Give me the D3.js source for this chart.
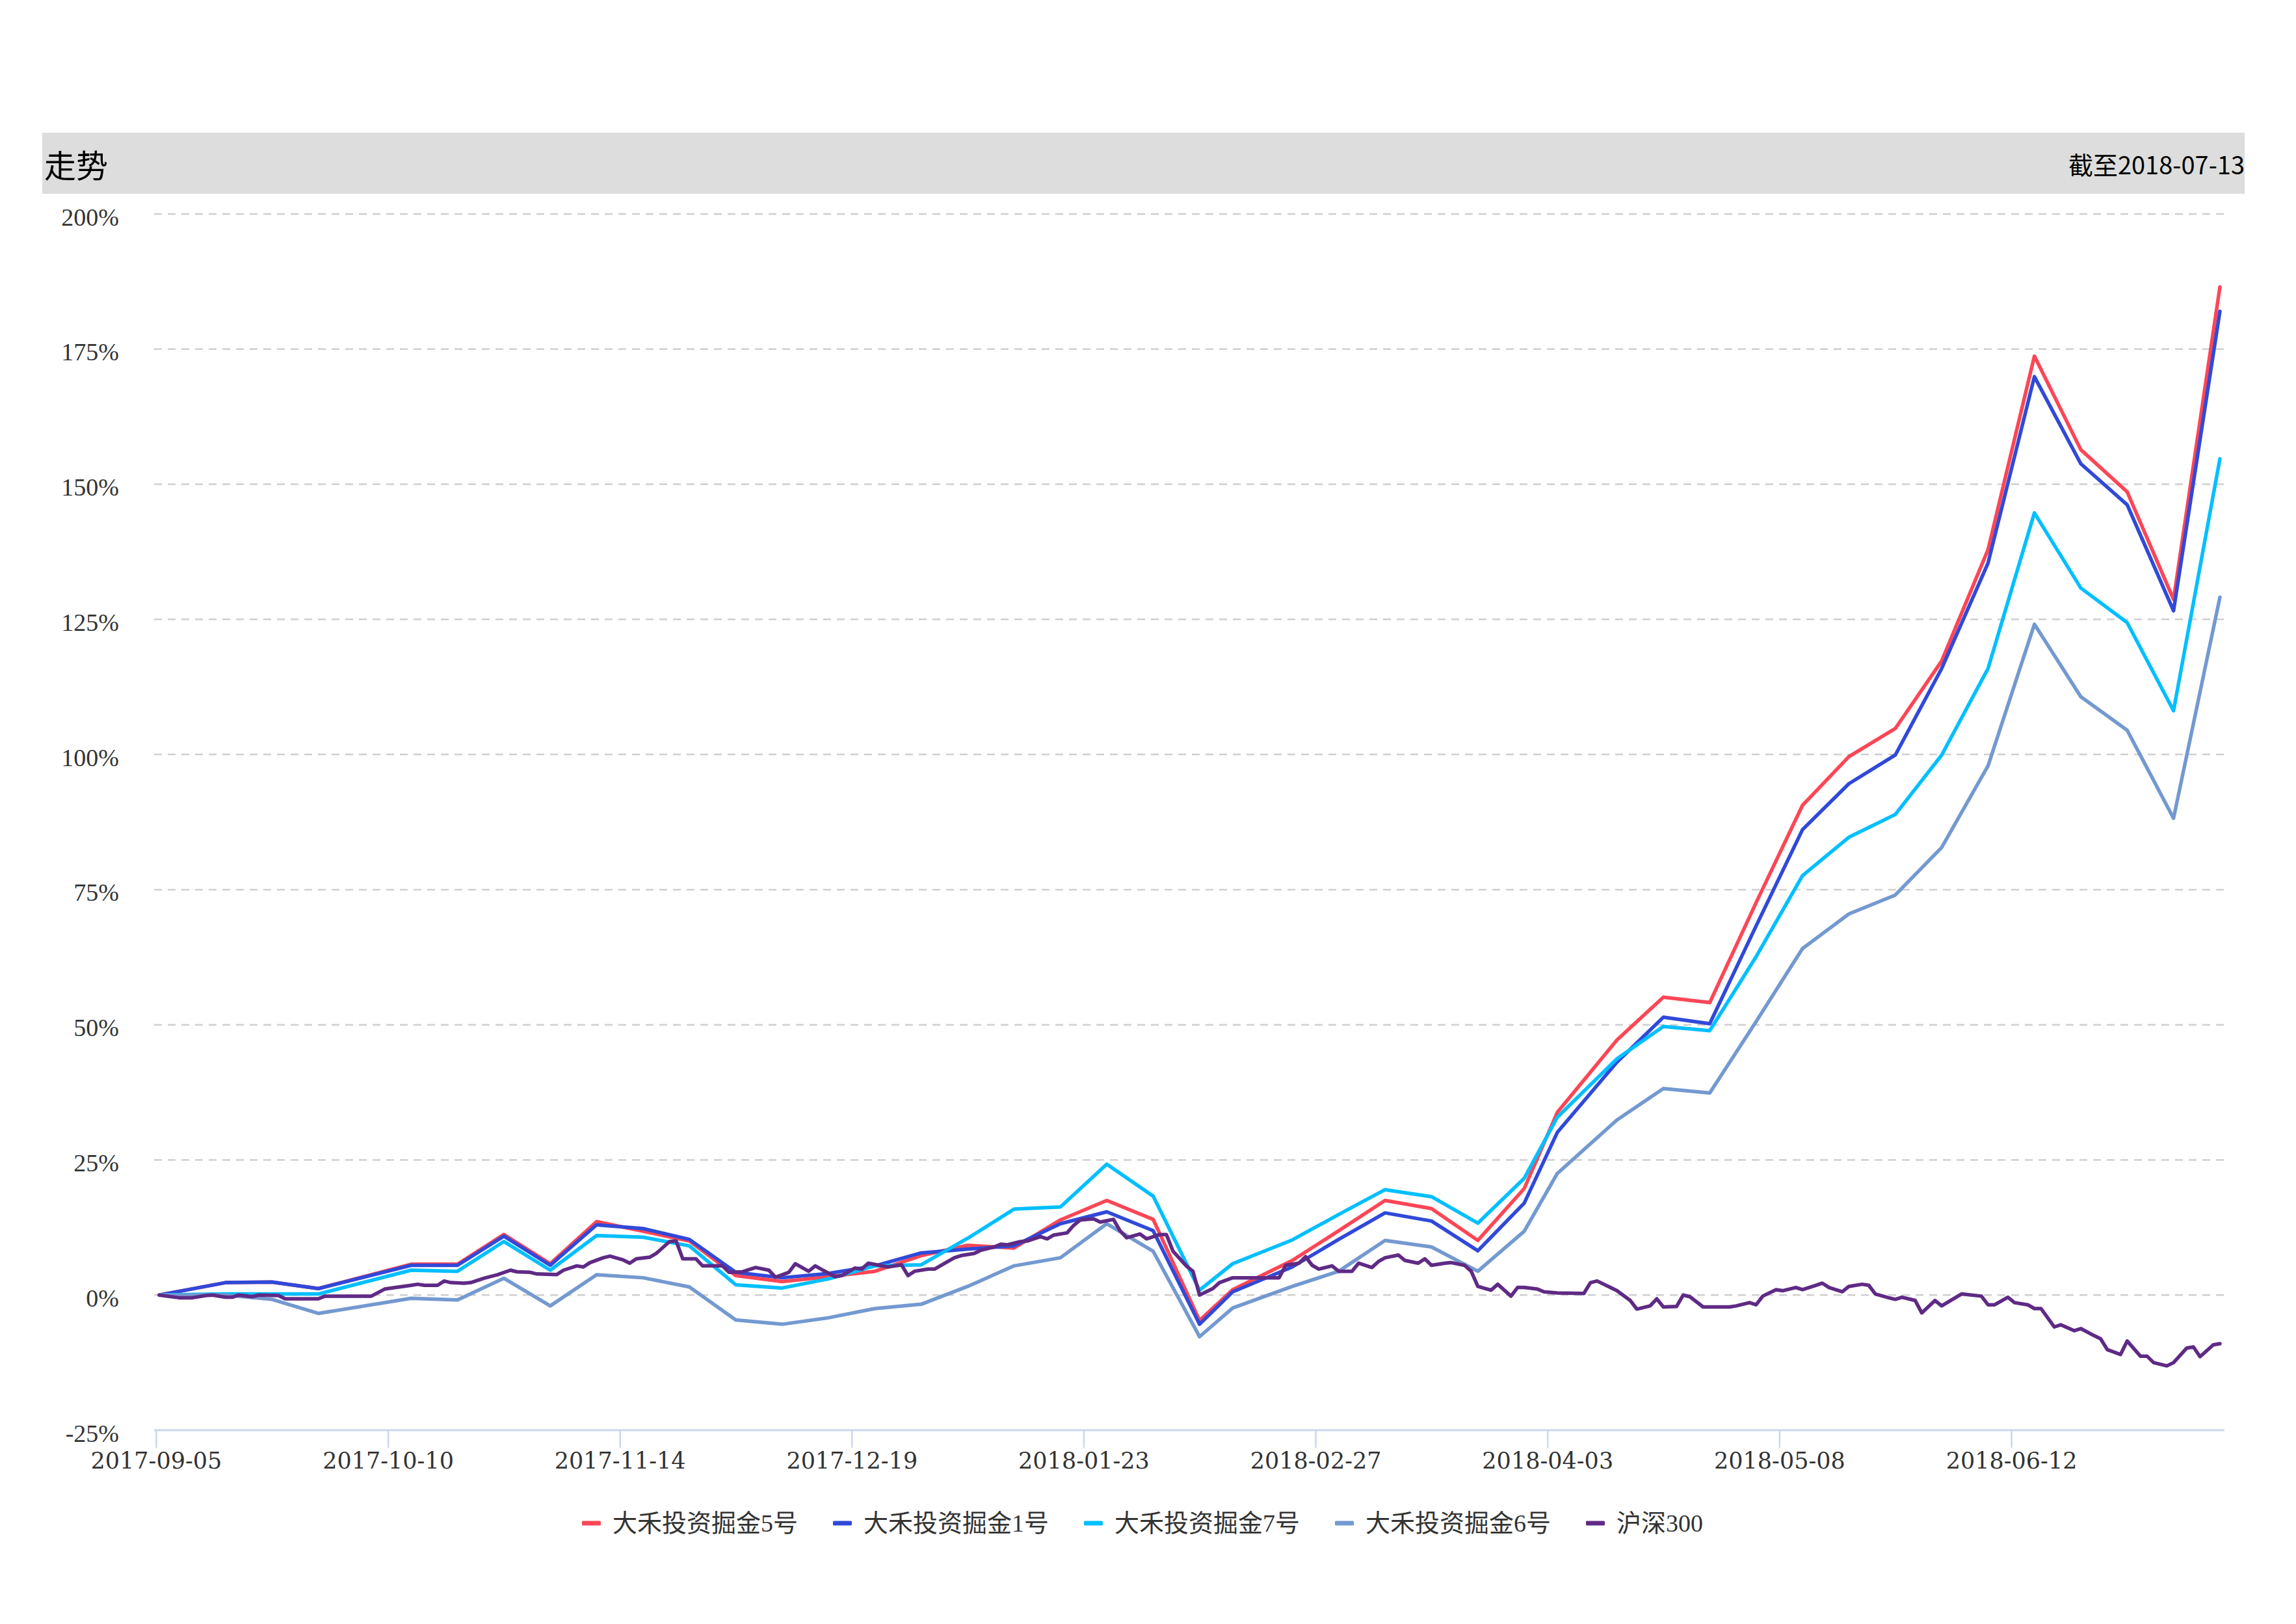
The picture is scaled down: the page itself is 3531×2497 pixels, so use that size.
<!DOCTYPE html>
<html><head><meta charset="utf-8">
<script src="https://cdn.jsdelivr.net/npm/d3@7"></script>
<style>html,body{margin:0;padding:0;background:#fff}</style>
</head><body>
<svg id="chart" width="3531" height="2497"></svg>
<script>
// ---------------- DATA ----------------
const chartTitle = "走势";
const asOfLabel = "截至2018-07-13";
const seriesNames = ["大禾投资掘金5号", "大禾投资掘金1号", "大禾投资掘金7号", "大禾投资掘金6号", "沪深300"];
const seriesColors = ["#fc4656", "#3049d9", "#00bfff", "#7399d0", "#5f2a85"];

const fundDates = ["2017-09-05","2017-09-15","2017-09-22","2017-09-29","2017-10-13","2017-10-20","2017-10-27","2017-11-03","2017-11-10","2017-11-17","2017-11-24","2017-12-01","2017-12-08","2017-12-15","2017-12-22","2017-12-29","2018-01-05","2018-01-12","2018-01-19","2018-01-26","2018-02-02","2018-02-09","2018-02-14","2018-02-23","2018-03-02","2018-03-09","2018-03-16","2018-03-23","2018-03-30","2018-04-04","2018-04-13","2018-04-20","2018-04-27","2018-05-04","2018-05-11","2018-05-18","2018-05-25","2018-06-01","2018-06-08","2018-06-15","2018-06-22","2018-06-29","2018-07-06","2018-07-13"];
const fund5 = [0,2.3,2.4,1.2,5.7,5.7,11.2,5.8,13.6,11.8,10.0,3.6,2.5,3.4,4.4,7.3,9.2,8.7,13.9,17.5,14.0,-4.7,1.0,6.4,11.9,17.5,16.0,10.1,19.7,33.8,47.2,55.1,54.1,72.6,90.6,99.6,104.8,117.3,137.9,173.7,156.4,148.6,128.7,186.5];
const fund1 = [0,2.3,2.4,1.2,5.5,5.5,10.9,5.5,13.0,12.3,10.3,4.2,3.2,4.0,5.4,7.8,8.5,9.1,13.2,15.4,11.9,-5.4,0.6,5.2,10.3,15.2,13.7,8.2,17.0,30.1,43.1,51.4,50.2,68.3,86.1,94.6,99.9,115.9,135.4,169.9,153.8,146.2,126.6,182.0];
const fund7 = [0,0.2,0.2,0.2,4.6,4.4,9.9,4.6,11.0,10.7,9.1,1.9,1.3,3.0,5.4,5.6,10.5,15.9,16.3,24.2,18.3,0.9,5.8,10.2,14.9,19.5,18.2,13.3,21.6,32.9,43.7,49.7,48.9,62.6,77.6,84.7,88.9,99.9,115.9,144.7,130.8,124.4,108.1,154.7];
const fund6 = [0,0,-0.8,-3.4,-0.6,-0.9,3.1,-2.0,3.75,3.2,1.5,-4.6,-5.4,-4.2,-2.5,-1.7,1.6,5.4,6.9,13.2,8.1,-7.7,-2.4,1.6,4.4,10.1,8.9,4.4,11.8,22.5,32.4,38.2,37.4,50.6,64.1,70.5,74.0,82.8,97.9,124.1,110.7,104.5,88.2,129.1];

const hsDates = [
 "2017-09-05","2017-09-08","2017-09-10","2017-09-12","2017-09-13","2017-09-15","2017-09-16","2017-09-17","2017-09-19","2017-09-20","2017-09-23","2017-09-24","2017-09-29","2017-09-30",
 "2017-10-07","2017-10-09","2017-10-10","2017-10-13","2017-10-14","2017-10-15","2017-10-17","2017-10-18","2017-10-19","2017-10-21","2017-10-22","2017-10-24","2017-10-26","2017-10-28","2017-10-29","2017-10-31",
 "2017-11-01","2017-11-04","2017-11-05","2017-11-07","2017-11-08","2017-11-09","2017-11-11","2017-11-12","2017-11-14","2017-11-15","2017-11-16","2017-11-18","2017-11-19","2017-11-21","2017-11-22","2017-11-23","2017-11-25","2017-11-26","2017-11-29","2017-11-30",
 "2017-12-02","2017-12-04","2017-12-06","2017-12-07","2017-12-09","2017-12-10","2017-12-12","2017-12-13","2017-12-14","2017-12-16","2017-12-17","2017-12-19","2017-12-20","2017-12-21","2017-12-24","2017-12-26","2017-12-27","2017-12-28","2017-12-30","2017-12-31",
 "2018-01-02","2018-01-03","2018-01-04","2018-01-06","2018-01-07","2018-01-09","2018-01-10","2018-01-11","2018-01-13","2018-01-14","2018-01-16","2018-01-17","2018-01-18","2018-01-20","2018-01-21","2018-01-22","2018-01-24","2018-01-25","2018-01-27","2018-01-28","2018-01-29","2018-01-31",
 "2018-02-01","2018-02-03","2018-02-04","2018-02-05","2018-02-07","2018-02-08","2018-02-09","2018-02-11","2018-02-12","2018-02-14","2018-02-21","2018-02-22","2018-02-24","2018-02-25","2018-02-26","2018-02-27",
 "2018-03-01","2018-03-02","2018-03-04","2018-03-05","2018-03-07","2018-03-08","2018-03-09","2018-03-11","2018-03-12","2018-03-14","2018-03-15","2018-03-16","2018-03-18","2018-03-19","2018-03-21","2018-03-22","2018-03-23","2018-03-25","2018-03-26","2018-03-28","2018-03-29","2018-03-30",
 "2018-04-01","2018-04-02","2018-04-04","2018-04-08","2018-04-09","2018-04-10","2018-04-12","2018-04-13","2018-04-15","2018-04-16","2018-04-18","2018-04-19","2018-04-20","2018-04-22","2018-04-23","2018-04-24","2018-04-26","2018-04-30",
 "2018-05-01","2018-05-03","2018-05-04","2018-05-05","2018-05-07","2018-05-08","2018-05-10","2018-05-11","2018-05-13","2018-05-14","2018-05-15","2018-05-17","2018-05-18","2018-05-20","2018-05-21","2018-05-22","2018-05-24","2018-05-25","2018-05-26","2018-05-28","2018-05-29","2018-05-31",
 "2018-06-01","2018-06-04","2018-06-07","2018-06-08","2018-06-09","2018-06-11","2018-06-12","2018-06-14","2018-06-15","2018-06-16","2018-06-18","2018-06-19","2018-06-21","2018-06-22","2018-06-24","2018-06-25","2018-06-26","2018-06-28","2018-06-29",
 "2018-07-01","2018-07-02","2018-07-03","2018-07-05","2018-07-06","2018-07-08","2018-07-09","2018-07-10","2018-07-12","2018-07-13"];
const hsValues = [
 0,-0.5,-0.5,-0.1,0,-0.4,-0.4,0,-0.3,0,-0.1,-0.7,-0.7,-0.2,
 -0.2,1.1,1.3,1.8,2.0,1.8,1.8,2.6,2.3,2.2,2.3,3.1,3.75,4.6,4.3,4.2,
 3.9,3.8,4.6,5.4,5.2,6.0,6.9,7.2,6.5,5.9,6.7,7.0,7.7,9.9,10.0,6.7,6.7,5.4,5.4,4.2,
 4.3,5.1,4.6,3.3,4.2,5.8,4.4,5.4,4.7,3.4,3.6,5.0,4.8,5.9,5.2,5.6,3.6,4.4,4.8,4.8,
 6.2,6.9,7.3,7.7,8.3,8.9,9.4,9.3,9.9,10.0,10.8,10.4,11.1,11.5,12.9,13.9,14.1,13.5,14.0,11.9,10.6,11.3,
 10.4,11.2,11.2,8.1,5.4,4.4,0.0,1.2,2.3,3.2,3.2,5.5,5.9,7.1,5.5,4.8,
 5.4,4.4,4.4,5.9,5.1,6.2,6.9,7.4,6.4,5.9,6.7,5.5,5.9,6.0,5.5,4.4,1.6,0.9,2.0,-0.2,1.4,1.4,
 1.1,0.6,0.4,0.3,2.3,2.6,1.4,0.8,-1.0,-2.6,-2.0,-0.7,-2.2,-2.1,0.0,-0.3,-2.2,-2.2,
 -2.0,-1.4,-1.8,-0.2,1.0,0.8,1.4,1.0,1.8,2.2,1.4,0.6,1.6,2.0,1.8,0.2,-0.5,-0.8,-0.4,-1.0,-3.3,-1.0,
 -2.0,0.2,-0.2,-1.8,-1.8,-0.4,-1.4,-1.8,-2.5,-2.5,-5.9,-5.5,-6.6,-6.2,-7.5,-8.1,-10.1,-11.0,-8.5,
 -11.3,-11.3,-12.5,-13.1,-12.5,-9.8,-9.6,-11.4,-9.2,-9.0];

const yTickValues = [-25, 0, 25, 50, 75, 100, 125, 150, 175, 200];
const xTickLabels = ["2017-09-05","2017-10-10","2017-11-14","2017-12-19","2018-01-23","2018-02-27","2018-04-03","2018-05-08","2018-06-12"];

// ---------------- LAYOUT ----------------
const W = 3531, H = 2497;
const plotLeft = 237, plotRight = 3420, plotTop = 329, plotBottom = 2199;
const parse = d3.utcParse("%Y-%m-%d");
const serifFont = "'Liberation Serif','Noto Sans CJK SC',serif";
const sansFont = "'Noto Sans CJK SC','DejaVu Sans',sans-serif";

const svg = d3.select("#chart");
svg.append("rect").attr("width", W).attr("height", H).attr("fill", "#fff");

const x = d3.scaleUtc()
  .domain([parse(fundDates[0]), parse(fundDates[fundDates.length - 1])])
  .range([245, 3414]);
const y = d3.scaleLinear().domain([-25, 200]).range([plotBottom, plotTop]);

// title bar
svg.append("rect").attr("x", 65).attr("y", 204).attr("width", 3452 - 65).attr("height", 94).attr("fill", "#dddddd");
svg.append("text").attr("x", 68).attr("y", 251).attr("dominant-baseline", "central")
  .attr("font-family", sansFont).attr("font-size", 49).attr("fill", "#000").text(chartTitle);
svg.append("text").attr("x", 3452).attr("y", 251).attr("dominant-baseline", "central").attr("text-anchor", "end")
  .attr("font-family", sansFont).attr("font-size", 38).attr("fill", "#000").text(asOfLabel);

// grid lines
svg.append("g").selectAll("line").data(yTickValues.filter(v => v > -25)).join("line")
  .attr("x1", plotLeft).attr("x2", plotRight)
  .attr("y1", d => y(d)).attr("y2", d => y(d))
  .attr("stroke", "#cfcfcf").attr("stroke-width", 2.5).attr("stroke-dasharray", "12,9");

// y labels
const yAxis = d3.axisLeft(y).tickValues(yTickValues).tickSize(0).tickPadding(0).tickFormat(d => d + "%");
const gy = svg.append("g").attr("transform", `translate(183,0)`).call(yAxis);
gy.select(".domain").remove();
gy.selectAll("text").attr("font-family", serifFont).attr("font-size", 38).attr("fill", "#333")
  .attr("dy", null).attr("y", 17);

// x axis line
svg.append("line").attr("x1", plotLeft).attr("x2", 3421).attr("y1", plotBottom).attr("y2", plotBottom)
  .attr("stroke", "#ccd6eb").attr("stroke-width", 3);

const tickDates = xTickLabels.map(s => d3.utcHour.offset(parse(s), -12));
const xAxis = d3.axisBottom(x).tickValues(tickDates).tickSize(27).tickPadding(7)
  .tickFormat(d => d3.utcFormat("%Y-%m-%d")(d3.utcHour.offset(d, 12)));
const gx = svg.append("g").attr("transform", `translate(0,${plotBottom})`).call(xAxis);
gx.select(".domain").remove();
gx.selectAll(".tick line").attr("stroke", "#ccd6eb").attr("stroke-width", 2.5);
gx.selectAll("text").attr("font-family", "'DejaVu Serif',serif").attr("font-size", 35).attr("fill", "#333");

// series
const fundSeries = [fund5, fund1, fund7, fund6];
const line = d3.line().x(d => x(d[0])).y(d => y(d[1])).curve(d3.curveLinear);
const gLines = svg.append("g").attr("fill", "none").attr("stroke-linejoin", "round").attr("stroke-linecap", "round");
fundSeries.forEach((vals, i) => {
  const pts = fundDates.map((d, j) => [parse(d), vals[j]]);
  gLines.append("path").attr("d", line(pts)).attr("stroke", seriesColors[i]).attr("stroke-width", 5.5);
});
const hsPts = hsDates.map((d, j) => [parse(d), hsValues[j]]);
gLines.append("path").attr("d", line(hsPts)).attr("stroke", seriesColors[4]).attr("stroke-width", 5.5);

// legend
const legendY = 2342, legendCenter = 1757;
const gLeg = svg.append("g");
const items = seriesNames.map((name, i) => {
  const g = gLeg.append("g");
  g.append("rect").attr("x", 0).attr("y", -3.5).attr("width", 29).attr("height", 7).attr("rx", 1.5).attr("fill", seriesColors[i]);
  const t = g.append("text").attr("x", 47).attr("y", 0).attr("dominant-baseline", "central")
    .attr("font-family", serifFont).attr("font-size", 38).attr("fill", "#333").text(name);
  return { g, w: 47 + t.node().getComputedTextLength() };
});
const gap = 54;
const total = d3.sum(items, d => d.w) + gap * (items.length - 1);
let cx = legendCenter - total / 2;
items.forEach(it => { it.g.attr("transform", `translate(${cx},${legendY})`); cx += it.w + gap; });
</script>
</body></html>
